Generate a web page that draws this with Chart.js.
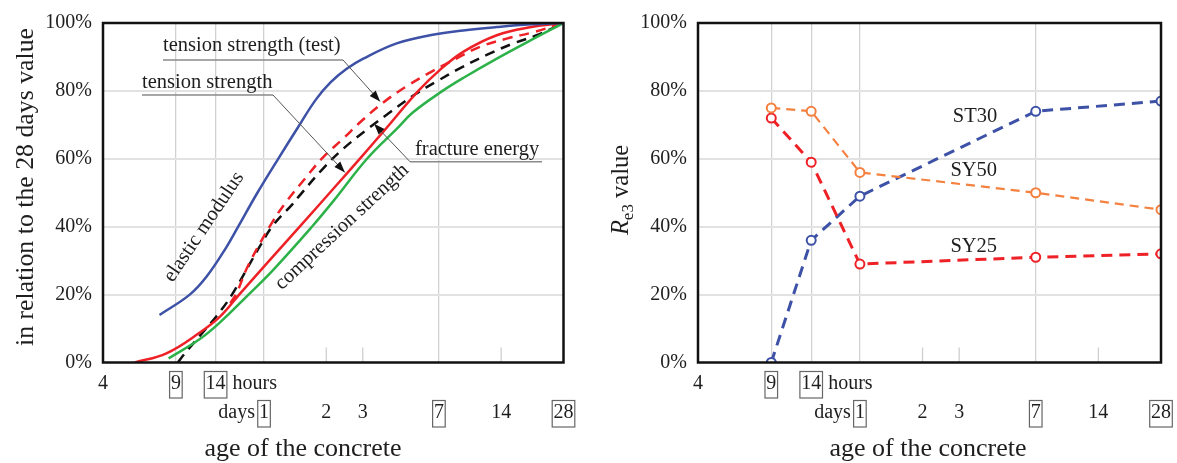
<!DOCTYPE html>
<html lang="en">
<head>
<meta charset="UTF-8">
<title>Age of the concrete</title>
<script src="https://cdn.jsdelivr.net/npm/chart.js"></script>
<style>
  html, body { margin: 0; padding: 0; background: #fff; }
  #wrap { position: relative; width: 1177px; height: 463px; }
  #leftChart { position: absolute; left: 0; top: 0; }
  #rightChart { position: absolute; left: 588px; top: 0; }
</style>
</head>
<body>
<div id="wrap">
  <canvas id="leftChart" width="588" height="463"></canvas>
  <canvas id="rightChart" width="589" height="463"></canvas>
</div>
<script>
// ---- axis data (age in hours, log scale) ----
const ageTicks = [4, 9, 14, 24, 48, 72, 168, 336, 672];
const gridAges = [9, 14, 24, 168];
const shortTickAges = [48, 72, 336];
const hourLabels = ['4', '9', '14'];
const hourLabelAt = [4, 9, 14];
const dayLabels = ['1', '2', '3', '7', '14', '28'];
const dayLabelAt = [24, 48, 72, 168, 336, 672];
const boxedLabels = ['9', '14', '1', '7', '28'];

// ---- left panel: development relative to 28 days value (%) ----
const elasticH = [7.5, 10.5, 12.7, 15.8, 18.0, 22.3, 28.1, 34.8, 42.8, 50.3, 60.2, 72.4, 105, 152, 220, 320, 470, 672];
const elasticV = [14, 20, 25.4, 34, 40, 50, 60, 69, 77.5, 82.5, 86.5, 89.5, 94, 96.4, 97.8, 98.8, 99.6, 100];

const tensionH = [5.7, 8.1, 11.8, 14.7, 18.2, 24.7, 35.7, 53.7, 72, 90.5, 133.6, 170, 220, 320, 470, 672];
const tensionV = [0, 2.7, 8.9, 13.5, 20, 29.1, 40, 52.2, 61, 68, 80, 86.2, 91.5, 96.4, 98.8, 100];

const compressionH = [8.3, 11.8, 14.7, 20.2, 26.6, 40.9, 52, 75.5, 105, 126, 175, 220, 320, 470, 672];
const compressionV = [1.2, 7, 11.8, 20, 27.3, 40, 47.6, 60, 68.8, 73.7, 80, 83.8, 89.5, 95, 100];

const tensionTestH = [16.5, 17.7, 20.2, 26.6, 30.9, 37.9, 46.4, 58, 71.2, 90.5, 117.5, 155, 205, 266, 357, 481, 672];
const tensionTestV = [17.5, 20.5, 28.8, 41.8, 47.5, 54.2, 60.5, 66, 71.2, 76.6, 81.4, 85.7, 89.6, 93, 95.4, 97.3, 100];

const fractureH = [9.2, 9.8, 11.8, 14.2, 16.8, 22.9, 26.6, 32.8, 35.8, 46.4, 58, 78, 97.5, 129, 164, 213, 286, 385, 499, 672];
const fractureV = [0, 2.2, 8, 13.8, 20, 34.2, 40.5, 46.5, 49.3, 57.2, 63, 69.3, 73.7, 79, 82.8, 86.7, 90.6, 94, 96.4, 100];

// ---- right panel: Re3 value (%) ----
const re3Ages = [9, 14, 24, 168, 672];
const st30 = [0, 36, 49, 74, 77];
const sy50 = [75, 74, 56, 50, 45];
const sy25 = [72, 59, 29, 31, 32];

const FONT = '"Liberation Serif", "Times New Roman", serif';
const BLUE = '#3d52a7', RED = '#ee2127', GREEN = '#2db24a', ORANGE = '#f4813f', BLACK = '#111111';
const TEXT = '#1e1e1e';

Chart.defaults.font.family = FONT;

function pts(hs, vs) {
  return hs.map((h, i) => ({ x: h, y: vs[i] }));
}

function ageAxis(height) {
  return {
    type: 'logarithmic',
    min: 4,
    max: 672,
    afterBuildTicks: s => { s.ticks = ageTicks.map(v => ({ value: v })); },
    afterFit: s => { s.height = height; },
    ticks: { display: false },
    grid: {
      drawTicks: false,
      color: c => gridAges.includes(c.tick.value) ? '#d2d2d2' : 'rgba(0,0,0,0)',
      lineWidth: 1.3
    },
    border: { display: false }
  };
}

function pctAxis(width) {
  return {
    min: 0,
    max: 100,
    afterFit: s => { s.width = width; },
    ticks: {
      stepSize: 20,
      callback: v => v + '%',
      font: { family: FONT, size: 20 },
      color: TEXT,
      padding: 11
    },
    grid: {
      drawTicks: false,
      color: c => (c.tick.value > 0 && c.tick.value < 100) ? '#e2e2e2' : 'rgba(0,0,0,0)',
      lineWidth: 2
    },
    border: { display: false }
  };
}

// short tick marks, plot frame, two-row age labels and x title
function ageDecor(titleX) {
  return {
    id: 'ageDecor',
    beforeDatasetsDraw(chart) {
      const { ctx, chartArea: a, scales: { x } } = chart;
      ctx.save();
      ctx.strokeStyle = '#cfcfcf';
      ctx.lineWidth = 1.3;
      shortTickAges.forEach(h => {
        const px = x.getPixelForValue(h);
        ctx.beginPath();
        ctx.moveTo(px, a.bottom);
        ctx.lineTo(px, a.bottom - 15);
        ctx.stroke();
      });
      ctx.restore();
    },
    afterDraw(chart) {
      const { ctx, chartArea: a, scales: { x } } = chart;
      ctx.save();
      ctx.strokeStyle = '#111';
      ctx.lineWidth = 2.5;
      ctx.strokeRect(a.left, a.top, a.right - a.left, a.bottom - a.top);

      ctx.font = '20px ' + FONT;
      ctx.fillStyle = TEXT;
      ctx.textBaseline = 'alphabetic';
      ctx.textAlign = 'center';

      const label = (t, h, base) => {
        const px = x.getPixelForValue(h);
        ctx.fillText(t, px, base);
        const w = ctx.measureText(t).width;
        if (boxedLabels.includes(t) && !(t === '14' && base > 400)) {
          ctx.strokeStyle = '#666';
          ctx.lineWidth = 1.2;
          ctx.strokeRect(px - w / 2 - 1.3, base - 17.5, w + 2.6, 26.5);
        }
        return { px, w };
      };

      const row1 = 389, row2 = 418;
      let last;
      hourLabels.forEach((t, i) => { last = label(t, hourLabelAt[i], row1); });
      ctx.textAlign = 'left';
      ctx.fillText('hours', last.px + last.w / 2 + 7, row1);
      ctx.textAlign = 'center';
      let first;
      dayLabels.forEach((t, i) => {
        const r = label(t, dayLabelAt[i], row2);
        if (i === 0) first = r;
      });
      ctx.textAlign = 'right';
      ctx.fillText('days', first.px - first.w / 2 - 4, row2);

      ctx.textAlign = 'center';
      ctx.font = '26px ' + FONT;
      ctx.fillText('age of the concrete', titleX, 456);
      ctx.restore();
    }
  };
}

function arrow(ctx, x0, y0, x1, y1) {
  ctx.beginPath();
  ctx.moveTo(x0, y0);
  ctx.lineTo(x1, y1);
  ctx.stroke();
  const ang = Math.atan2(y1 - y0, x1 - x0);
  const len = 11, half = 4;
  ctx.beginPath();
  ctx.moveTo(x1, y1);
  ctx.lineTo(x1 - len * Math.cos(ang) + half * Math.sin(ang), y1 - len * Math.sin(ang) - half * Math.cos(ang));
  ctx.lineTo(x1 - len * Math.cos(ang) - half * Math.sin(ang), y1 - len * Math.sin(ang) + half * Math.cos(ang));
  ctx.closePath();
  ctx.fill();
}

// callouts of the left panel; arrow tips sit on the curves (hours, %)
const callouts = [
  { text: 'tension strength (test)', x: 163, base: 51, lineY: 60, x1: 163, x2: 343, from: 'right', tip: [87.3, 76.9] },
  { text: 'tension strength', x: 142, base: 87.5, lineY: 95, x1: 142, x2: 273, from: 'right', tip: [59, 56] },
  { text: 'fracture energy', x: 415, base: 155, lineY: 161.7, x1: 410, x2: 542, from: 'left', tip: [81.6, 70.3] }
];

const leftNotes = {
  id: 'leftNotes',
  afterDraw(chart) {
    const { ctx, scales: { x, y } } = chart;
    ctx.save();
    ctx.font = '20.5px ' + FONT;
    ctx.fillStyle = TEXT;
    ctx.textAlign = 'left';
    ctx.textBaseline = 'alphabetic';
    callouts.forEach(c => {
      ctx.fillStyle = TEXT;
      ctx.fillText(c.text, c.x, c.base);
      ctx.strokeStyle = '#8a8a8a';
      ctx.lineWidth = 1.5;
      ctx.beginPath();
      ctx.moveTo(c.x1, c.lineY);
      ctx.lineTo(c.x2, c.lineY);
      ctx.stroke();
      const sx = c.from === 'right' ? c.x2 : c.x1;
      ctx.strokeStyle = '#555';
      ctx.lineWidth = 1;
      ctx.fillStyle = '#111';
      arrow(ctx, sx, c.lineY, x.getPixelForValue(c.tip[0]), y.getPixelForValue(c.tip[1]));
    });

    ctx.fillStyle = TEXT;
    ctx.textAlign = 'center';
    ctx.textBaseline = 'middle';
    [['elastic modulus', 204, 227, -56], ['compression strength', 342, 227, -43]].forEach(([t, cx, cy, deg]) => {
      ctx.save();
      ctx.translate(cx, cy);
      ctx.rotate(deg * Math.PI / 180);
      ctx.fillText(t, 0, 0);
      ctx.restore();
    });

    ctx.font = '25.8px ' + FONT;
    ctx.textBaseline = 'alphabetic';
    ctx.translate(32.5, 187);
    ctx.rotate(-Math.PI / 2);
    ctx.fillText('in relation to the 28 days value', 0, 0);
    ctx.restore();
  }
};

// series names and the R_e3 title of the right panel
const seriesNames = ['ST30', 'SY50', 'SY25'];
const seriesNameAt = [[85.8, 72.3], [84.6, 56.5], [84.6, 34.2]];

const rightNotes = {
  id: 'rightNotes',
  afterDraw(chart) {
    const { ctx, scales: { x, y } } = chart;
    ctx.save();
    ctx.font = '20.5px ' + FONT;
    ctx.fillStyle = TEXT;
    ctx.textAlign = 'center';
    ctx.textBaseline = 'middle';
    seriesNames.forEach((t, i) => {
      ctx.fillText(t, x.getPixelForValue(seriesNameAt[i][0]), y.getPixelForValue(seriesNameAt[i][1]));
    });

    ctx.textBaseline = 'alphabetic';
    ctx.textAlign = 'left';
    const big = '24.5px ' + FONT, ital = 'italic 24.5px ' + FONT, small = '17px ' + FONT;
    ctx.font = ital; const wR = ctx.measureText('R').width;
    ctx.font = small; const wS = ctx.measureText('e3').width;
    ctx.font = big; const wV = ctx.measureText(' value').width;
    const total = wR + wS + wV;
    ctx.translate(40, 190);
    ctx.rotate(-Math.PI / 2);
    let cx = -total / 2;
    ctx.font = ital; ctx.fillText('R', cx, 0); cx += wR;
    ctx.font = small; ctx.fillText('e3', cx, 5); cx += wS;
    ctx.font = big; ctx.fillText(' value', cx, 0);
    ctx.restore();
  }
};

function curve(hs, vs, color, dash) {
  return {
    data: pts(hs, vs),
    borderColor: color,
    borderWidth: 2.5,
    borderDash: dash || [],
    pointRadius: 0,
    tension: 0.4,
    fill: false,
    clip: 0
  };
}

function series(vs, color, width, dash) {
  return {
    data: pts(re3Ages, vs),
    borderColor: color,
    borderWidth: width,
    borderDash: dash,
    tension: 0,
    pointRadius: 4.5,
    pointBorderWidth: 2,
    pointBackgroundColor: '#fff',
    pointBorderColor: color,
    fill: false,
    clip: 0
  };
}

new Chart(document.getElementById('leftChart'), {
  type: 'line',
  data: {
    datasets: [
      curve(elasticH, elasticV, BLUE),
      curve(compressionH, compressionV, GREEN),
      curve(tensionH, tensionV, RED),
      curve(tensionTestH, tensionTestV, RED, [10, 7]),
      curve(fractureH, fractureV, BLACK, [10, 7])
    ]
  },
  options: {
    responsive: false,
    animation: false,
    layout: { padding: { left: 0, right: 24.5, top: 19, bottom: 0 } },
    plugins: { legend: { display: false }, tooltip: { enabled: false } },
    scales: { x: ageAxis(100.5), y: pctAxis(103) }
  },
  plugins: [ageDecor(303), leftNotes]
});

new Chart(document.getElementById('rightChart'), {
  type: 'line',
  data: {
    datasets: [
      series(sy50, ORANGE, 2.2, [9, 6]),
      series(sy25, RED, 3, [11, 7]),
      series(st30, BLUE, 3, [11, 7])
    ]
  },
  options: {
    responsive: false,
    animation: false,
    layout: { padding: { left: 0, right: 16, top: 19, bottom: 0 } },
    plugins: { legend: { display: false }, tooltip: { enabled: false } },
    scales: { x: ageAxis(100.5), y: pctAxis(110) }
  },
  plugins: [ageDecor(340), rightNotes]
});
</script>
</body>
</html>
